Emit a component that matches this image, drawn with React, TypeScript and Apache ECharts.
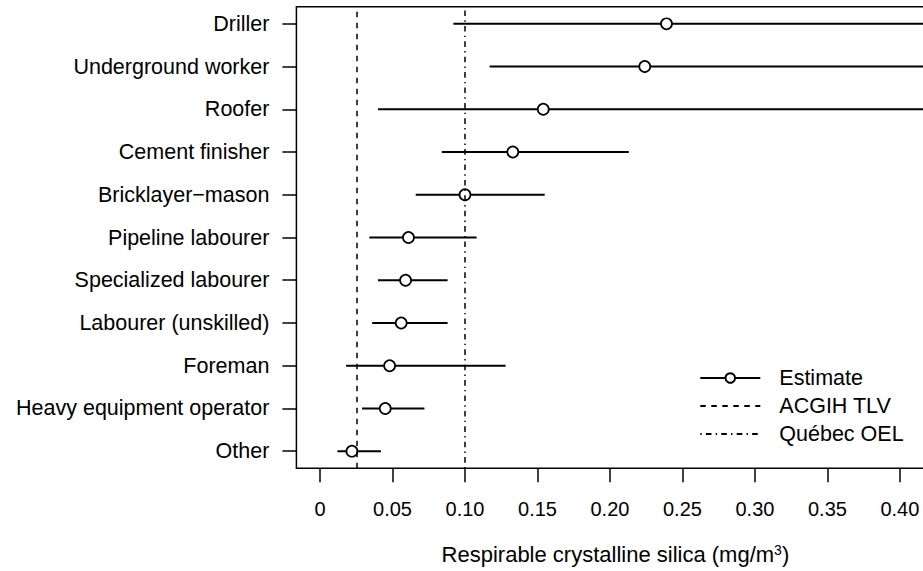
import React, { useEffect, useRef } from "react";
import * as echarts from "echarts";

const categories = [
  "Driller",
  "Underground worker",
  "Roofer",
  "Cement finisher",
  "Bricklayer\u2212mason",
  "Pipeline labourer",
  "Specialized labourer",
  "Labourer (unskilled)",
  "Foreman",
  "Heavy equipment operator",
  "Other",
];
const estimates = [0.239, 0.224, 0.154, 0.133, 0.1, 0.061, 0.059, 0.056, 0.048, 0.045, 0.022];
const lowerCI = [0.092, 0.117, 0.04, 0.084, 0.066, 0.034, 0.04, 0.036, 0.018, 0.029, 0.012];
const upperCI = [0.61, 0.45, 0.59, 0.213, 0.155, 0.108, 0.088, 0.088, 0.128, 0.072, 0.042];
const xTicks = [0, 0.05, 0.1, 0.15, 0.2, 0.25, 0.3, 0.35, 0.4];
const ACGIH_TLV = 0.025;
const QUEBEC_OEL = 0.1;

const FONT = "'Liberation Sans', Arial, Helvetica, sans-serif";

export default function App() {
  const ref = useRef<HTMLDivElement>(null);
  useEffect(() => {
    if (!ref.current) return;
    const chart = echarts.init(ref.current, undefined, { renderer: "svg" });
    const n = categories.length;
    const yPos = categories.map((_, i) => n - i);
    const option: any = {
      animation: false,
      backgroundColor: "#fff",
      grid: {
        left: 296.4,
        top: 6.7,
        width: 638,
        height: 461.6,
        show: true,
        borderColor: "#000",
        borderWidth: 1.5,
        backgroundColor: "transparent",
        containLabel: false,
        outerBoundsMode: "none",
      },
      xAxis: {
        type: "value",
        min: -0.0163,
        max: 0.4238,
        axisLine: { show: false, onZero: false },
        splitLine: { show: false },
        axisTick: {
          show: true,
          customValues: xTicks,
          length: 14,
          lineStyle: { color: "#000", width: 1.5 },
        },
        axisLabel: {
          customValues: xTicks,
          formatter: (v: number) => (v === 0 ? "0" : v.toFixed(2)),
          fontSize: 20,
          margin: 31,
          color: "#000",
          fontFamily: FONT,
        },
        name: "Respirable crystalline silica (mg/m{sup|3})",
        nameLocation: "middle",
        nameGap: 75,
        nameTextStyle: {
          fontSize: 22,
          color: "#000",
          fontFamily: FONT,
          rich: {
            sup: { fontSize: 14, verticalAlign: "top", color: "#000", fontFamily: FONT },
          },
        },
      },
      yAxis: {
        type: "value",
        min: 0.6,
        max: 11.4,
        axisLine: { show: false, onZero: false },
        splitLine: { show: false },
        axisTick: {
          show: true,
          inside: false,
          customValues: yPos,
          length: 14,
          lineStyle: { color: "#000", width: 1.5 },
        },
        axisLabel: {
          customValues: yPos,
          formatter: (v: number) => categories[n - Math.round(v)] ?? "",
          fontSize: 21.5,
          margin: 27,
          color: "#000",
          fontFamily: FONT,
        },
      },
      legend: {
        orient: "vertical",
        left: 699.3,
        top: 367,
        padding: 0,
        itemWidth: 60,
        itemHeight: 12,
        itemGap: 6,
        selectedMode: false,
        textStyle: {
          fontSize: 21.5,
          lineHeight: 22,
          color: "#000",
          fontFamily: FONT,
          padding: [0, 0, 0, 14],
        },
        data: [
          { name: "Estimate", lineStyle: { color: "#000", width: 2, opacity: 1, type: "solid" } },
          { name: "ACGIH TLV", itemStyle: { opacity: 0 } },
          { name: "Québec OEL", itemStyle: { opacity: 0 } },
        ],
      },
      series: [
        {
          type: "custom",
          name: "Interval",
          silent: true,
          clip: true,
          z: 2,
          encode: { x: [0, 1], y: 2 },
          data: categories.map((_, i) => [lowerCI[i], upperCI[i], yPos[i]]),
          renderItem: (params: any, api: any) => {
            const p1 = api.coord([api.value(0), api.value(2)]);
            const p2 = api.coord([api.value(1), api.value(2)]);
            return {
              type: "line",
              shape: { x1: p1[0], y1: p1[1], x2: p2[0], y2: p2[1] },
              style: { stroke: "#000", lineWidth: 2 },
            };
          },
        },
        {
          type: "line",
          name: "Estimate",
          silent: true,
          z: 3,
          data: estimates.map((e, i) => [e, yPos[i]]),
          symbol: "circle",
          symbolSize: 11,
          showSymbol: true,
          showAllSymbol: true,
          itemStyle: { color: "#fff", borderColor: "#000", borderWidth: 1.7 },
          lineStyle: { width: 0, opacity: 0 },
          emphasis: { disabled: true },
        },
        {
          type: "line",
          name: "ACGIH TLV",
          silent: true,
          z: 4,
          data: [],
          symbol: "none",
          itemStyle: { color: "#000" },
          lineStyle: { color: "#000", width: 1.5, type: [5.5, 5.5] },
          markLine: {
            silent: true,
            precision: 4,
            symbol: ["none", "none"],
            label: { show: false },
            lineStyle: { color: "#000", width: 1.5, type: [5.5, 5.5] },
            data: [{ xAxis: ACGIH_TLV }],
          },
        },
        {
          type: "line",
          name: "Québec OEL",
          silent: true,
          z: 4,
          data: [],
          symbol: "none",
          itemStyle: { color: "#000" },
          lineStyle: { color: "#000", width: 1.5, type: [1.4, 4.2, 5.6, 4.2] },
          markLine: {
            silent: true,
            precision: 4,
            symbol: ["none", "none"],
            label: { show: false },
            lineStyle: { color: "#000", width: 1.5, type: [1.4, 4.2, 5.6, 4.2] },
            data: [{ xAxis: QUEBEC_OEL }],
          },
        },
      ],
    };
    chart.setOption(option);
    return () => chart.dispose();
  }, []);
  return (
    <div
      ref={ref}
      style={{ position: "fixed", left: 0, top: 0, width: 923, height: 571, background: "#fff" }}
    />
  );
}
